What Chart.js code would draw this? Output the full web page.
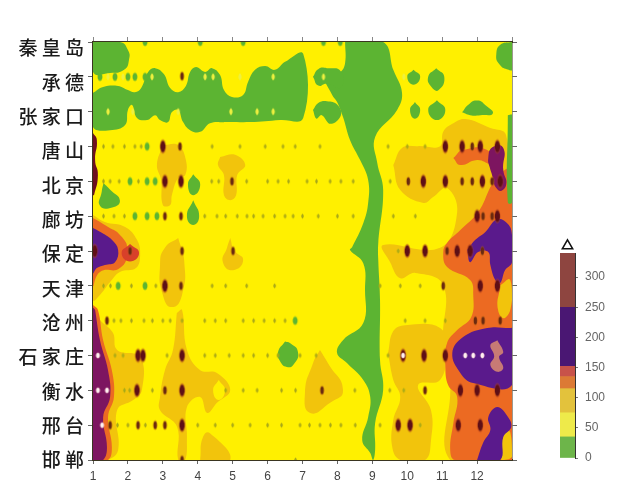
<!DOCTYPE html>
<html><head><meta charset="utf-8">
<style>
html,body{margin:0;padding:0;background:#fff;width:624px;height:500px;overflow:hidden}
canvas{position:absolute;filter:blur(.5px)}
#main{left:0;top:0}
#bar{left:540px;top:235px}
</style>
<script src="https://cdn.jsdelivr.net/npm/chart.js@4"></script>
</head><body>
<canvas id="main" width="624" height="500"></canvas>
<canvas id="bar" width="84" height="240"></canvas>
<script>
const cities=['秦 皇 岛','承 德','张 家 口','唐 山','北 京','廊 坊','保 定','天 津','沧 州','石 家 庄','衡 水','邢 台','邯 郸'];
const monthTicks=[1,2,3,4,5,6,7,8,9,10,11,12];
const barEdges=[0,35,75,115,135,152,250,340];
const barColors=['#6db54a','#eeea4a','#e3c23c','#dc7a35','#c8524a','#4a1773','#8e4540'];
const barTicks=[0,50,100,150,200,250,300];

// contour outlines: [month, station row]
const baseYellow=[[1,0],[13,0],[13,12],[1,12]];
const amberA=[[3,2.96],[3.44,2.96],[3.66,3.39],[3.64,3.82],[3.44,3.9],[3.26,4.39],[3.21,4.68],[3,4.68],[2.95,3.96],[2.83,3.53]];
const amberB=[[4.64,3.3],[5.07,3.24],[5.36,3.53],[5.13,3.82],[5.1,4.39],[4.93,4.54],[4.75,4.39],[4.75,3.82],[4.58,3.53]];
const amberC=[[3.44,5.63],[3.61,6.26],[3.55,7.26],[3.26,7.61],[3,7.26],[2.92,6.4],[3.06,5.91]];
const amberD=[[4.93,5.63],[5.04,5.97],[5.3,6.26],[5.01,6.55],[4.72,6.32],[4.84,5.9]];
const amberLeft=[[1,4.97],[1.34,5.17],[1.92,5.31],[2.26,5.68],[2.35,6.12],[2.23,6.49],[1.77,6.6],[1.49,6.89],[1.2,7.26],[1,7.41]];
const amberSouth=[[1,7.69],[1.2,7.98],[1.57,8.35],[1.69,8.84],[2.35,9.04],[2.4,9.99],[2.15,10.28],[1.69,10.57],[1.72,11.71],[1.4,12],[1,12]];
const amberMid=[[3.4,7.78],[3.55,7.69],[3.69,8.84],[4.07,9.42],[4.55,9.5],[4.93,9.99],[4.55,10.36],[4.27,10.65],[4.07,10.19],[3.69,10.48],[3.69,11.34],[3.64,12],[3.44,12],[3.41,11.05],[2.92,10.57],[2.92,10.19],[3.06,9.42],[3.29,8.84]];
const amberTri=[[4.07,12],[4.15,11.34],[4.35,11.23],[4.93,12]];
const amberAug=[[7.5,8.84],[7.73,9.22],[8.16,9.99],[7.79,10.36],[7.22,10.65],[7.07,10.08],[7.3,9.22]];
const amberEast=[[9.6,3.53],[9.85,3.04],[10.31,2.99],[10.94,2.99],[11.03,2.58],[11.29,2.35],[11.66,2.21],[12.38,2.47],[12.83,2.67],[13,4.54],[13,12],[11.23,12],[11.23,9.85],[11.03,8.56],[11.03,6.98],[10.23,6.63],[9.8,6.78],[9.51,6.32],[9.31,5.83],[10.94,5.91],[11.43,4.88],[11.14,4.19],[10.74,4.45],[10.46,4.62],[9.8,4.25]];
const amberSouthMid=[[9.45,8.93],[9.6,8.3],[9.94,8.13],[10.94,8.21],[11.11,8.84],[10.94,9.7],[10.31,9.85],[10.68,10.57],[10.68,11.43],[10.51,12],[9.8,12],[9.57,11.63],[9.6,10.85],[9.8,10.19],[9.6,9.7]];
const yellowHole=[[4.6,9.7],[4.78,10],[4.6,10.28],[4.44,10]];
const orangeEastA=[[11.32,3.33],[11.6,3.1],[12.29,3.1],[12.38,3.47],[12,3.39],[11.52,3.53]];
const orangeEastB=[[12.38,4.16],[12.03,4.88],[11.52,5.4],[11.14,5.77],[11.03,6.03],[11.14,6.46],[11.8,6.83],[11.89,7.26],[11.83,7.9],[11.43,8.27],[11.14,8.64],[11.09,9.27],[11.17,9.85],[11.43,10.19],[11.32,10.94],[11.23,11.71],[11.37,12],[13,12],[13,3.67],[12.8,3.67]];
const amberPatchA=[[12.66,6.98],[12.95,6.83],[13,7.41],[12.8,7.92],[12.6,7.69]];
const amberPatchB=[[12.6,11.3],[12.95,11.2],[13,11.9],[12.7,12]];
const orangeBaoding=[[1,5.05],[1.34,5.25],[1.83,5.6],[1.97,6.03],[1.77,6.49],[1.2,6.6],[1,6.98]];
const redRing=[[2.06,5.8],[2.32,6.06],[2.06,6.3],[1.82,6.06]];
const orangeStrip=[[1,7.55],[1.14,7.69],[1.29,8.56],[1.54,9.42],[1.6,10.19],[1.43,10.77],[1.54,11.63],[1.43,12],[1,12]];
const purpleBaoding=[[1,5.34],[1.2,5.45],[1.54,5.68],[1.72,5.97],[1.63,6.32],[1.34,6.4],[1.11,6.49],[1,6.63]];
const magentaStrip=[[1.06,7.69],[1.2,8.56],[1.43,9.42],[1.49,10.19],[1.29,10.77],[1.4,11.63],[1.29,12],[1,12],[1,7.64]];
const maroonStrip=[[1,2.61],[1.11,2.81],[1.06,3.39],[1.14,3.82],[1.03,4.39],[1,4.39]];
const purpleRow6=[[11.72,5.97],[11.95,5.68],[12.23,5.46],[12.58,5.08],[12.89,5.23],[13,5.54],[13,6.32],[12.8,6.55],[12.66,6.92],[12.52,6.83],[12.38,6.4],[12.32,6.03],[12.03,6.03],[11.8,6.32]];
const purpleShijz=[[12.95,8.21],[12.29,8.21],[11.6,8.47],[11.29,8.93],[11.52,9.5],[11.89,9.79],[13,9.85],[13,8.21]];
const purpleBottom=[[12,12],[12.17,11.51],[12.38,11.14],[12.32,10.77],[12.58,10.48],[12.89,10.77],[12.98,11.05],[12.75,11.34],[12.66,12]];
const magentaTop=[[12.38,3.67],[12.32,3.33],[12.46,3.01],[12.75,3.04],[12.75,3.67],[12.83,4.11],[12.6,4.25]];
const palePeak=[[12.58,8.56],[12.75,8.9],[12.63,9.04],[12.75,9.36],[12.58,9.47],[12.38,9.27],[12.49,9.02],[12.38,8.7]];
const greenLobe=[[1,0],[1.77,0],[2,.23],[2.03,.52],[1.89,.8],[1.49,.89],[1,.86]];
const greenNorth=[[1,1.46],[1.29,1.29],[1.72,1.26],[2,1.38],[2.2,1.44],[2.38,1.32],[2.58,.86],[2.78,.75],[3.03,.92],[3.21,1.32],[3.44,1.44],[3.66,1.26],[3.78,.86],[3.95,.72],[4.21,.86],[4.41,.75],[4.64,.95],[4.75,1.38],[4.98,1.58],[5.3,1.52],[5.44,1.15],[5.64,.8],[5.93,.69],[6.21,.8],[6.5,.57],[7.02,.34],[7.02,2.18],[6.36,2.24],[5.5,2.3],[4.78,2.3],[4.35,2.33],[4.07,2.58],[3.78,2.53],[3.58,2.3],[3.44,1.95],[3.26,2.01],[3.15,2.3],[2.92,2.24],[2.78,2.1],[2.55,2.24],[2.26,2.18],[2.12,1.81],[2,1.95],[1.92,2.38],[1.49,2.53],[1,2.44]];
const greenSept=[[8.22,0],[8.22,.6],[8.08,.86],[7.65,1],[7.85,1.52],[7.99,1.72],[8.16,2.15],[8.36,2.81],[8.65,3.39],[8.88,3.96],[8.88,4.62],[8.74,5.2],[8.42,5.89],[8.36,5.97],[8.74,6.35],[8.79,7.12],[8.74,8.07],[8.16,8.56],[7.99,8.93],[8.28,9.22],[8.74,9.7],[8.94,10.19],[8.88,10.77],[8.71,11.43],[8.94,11.8],[9.02,12],[9.08,11.71],[9.08,10.94],[9.31,9.99],[9.22,9.13],[9.22,7.41],[9.17,6.26],[9.17,5.77],[9.31,4.25],[9.14,3.47],[9.08,2.73],[9.71,1.95],[9.85,1.46],[9.6,.8],[9.31,0]];
const greenB1=[[10.18,.8],[10.37,1],[10.18,1.23],[10,1]];
const greenB2=[[10.83,.75],[11.06,1],[10.9,1.38],[10.7,1.3],[10.6,1]];
const greenB3=[[10.22,1.72],[10.37,1.95],[10.22,2.2],[10.08,1.95]];
const greenB4=[[10.85,1.67],[11.09,1.95],[10.85,2.24],[10.6,1.95]];
const greenB5=[[11.57,2.02],[11.75,1.8],[12,1.68],[12.25,1.82],[12.45,2.05],[12.1,2.1],[11.8,2.1]];
const greenB6=[[7.3,1],[7.45,.78],[7.7,.75],[8.1,.85],[8.1,1.3],[7.7,1.2],[7.45,1.25]];
const greenB7=[[7.3,1.95],[7.45,1.75],[7.7,1.7],[8,1.8],[8.1,2.1],[7.8,2.35],[7.55,2.1],[7.4,2.2]];
const greenCorner=[[13,0],[12.7,.05],[12.55,.35],[12.65,.65],[12.9,.8],[13,.8]];
const greenRight=[[12.88,2.1],[13,2.1],[13,4.6],[12.88,4.6]];
const greenJan=[[1.3,4.05],[1.5,4.25],[1.77,4.55],[1.55,4.75],[1.2,4.7],[1.25,4.3]];
const greenLangfang=[[3.87,4.54],[4.04,5],[3.87,5.25],[3.69,5]];
const greenBeijing=[[3.87,3.8],[4.07,4.1],[3.87,4.4],[3.72,4.1]];
const greenShijz=[[6.5,8.6],[6.65,8.65],[6.87,8.9],[6.75,9.25],[6.55,9.33],[6.35,9.15],[6.3,8.9]];

// station spots: [month, station row]
const spotBig=[[3,3],[11.09,3],[11.57,3],[12.09,3],[3.06,4],[3.52,4],[10.46,4],[11.09,4],[12.15,4],[12.66,4],[12,5],[12.58,5],[10,6],[10.51,6],[11.43,6],[11.8,6],[3.06,7],[12.09,7],[12.58,7],[3.55,9],[2.29,9],[2.43,9],[9.88,9],[10.48,9],[11.09,9],[3.55,10],[2.26,10],[11.52,10],[12,10],[12.58,10],[3.55,11],[11.46,11],[12.09,11],[9.74,11],[10.08,11],[1.05,6],[12.58,3]];
const spotMid=[[3.49,3],[11.86,3],[4.98,4],[10.03,4],[11.57,4],[11.86,4],[12.43,4],[3.06,5],[3.52,5],[12.17,5],[12.43,5],[3.55,6],[11.14,6],[12.15,6],[2.06,6],[5.01,6],[3.52,7],[11.03,7],[1.4,8],[12.17,8],[12.66,8],[11.95,8],[3.06,10],[10.51,10],[7.56,10],[2.29,11],[2.78,11],[3.06,11],[1.49,11],[3.55,12],[3.55,0.98]];
const spotOlive=[[2.2,3],[2.38,3],[1.57,3],[1.3,3],[1.9,3],[4.41,3],[5.21,3],[5.93,3],[6.44,3],[6.79,3],[7.5,3],[9.45,3],[10,3],[10.51,3],
 [1.3,4],[1.49,4],[1.75,4],[2.3,4],[4.4,4],[4.6,4],[5.4,4],[6,4],[6.3,4],[6.6,4],[7.13,4],[7.4,4],[7.79,4],[8.1,4],[8.45,4],[9.51,4],
 [1.3,5],[1.6,5],[1.9,5],[4.2,5],[4.55,5],[4.8,5],[5.13,5],[5.41,5],[5.6,5],[5.87,5],[6.2,5],[6.5,5],[6.73,5],[7,5],[7.45,5],[8,5],[8.45,5],[9.6,5],[10.23,5],
 [9.74,6],[1.3,7],[1.5,7],[2.1,7],[2.8,7],[4.41,7],[4.8,7],[5.4,7],[6.2,7],[9.22,7],[9.8,7],[10.37,7],
 [1.6,8],[1.8,8],[2.1,8],[2.46,8],[2.7,8],[3,8],[3.21,8],[3.55,8],[4.2,8],[4.5,8],[4.8,8],[5.3,8],[5.6,8],[5.9,8],[6.2,8],[6.5,8],[9.94,8],[10.51,8],[11.09,8],
 [1.63,9],[1.86,9],[3.12,9],[4.2,9],[4.5,9],[4.9,9],[5.3,9],[5.6,9],[6,9],[6.3,9],[6.93,9],[7.39,9],[9.45,9],
 [1.9,10],[2.05,10],[2.7,10],[4.8,10],[5.3,10],[5.7,10],[6.4,10],[6.8,10],[8.5,10],[9.5,10],[9.9,10],
 [1.7,11],[2,11],[2.5,11],[4,11],[4.5,11],[5,11],[5.5,11],[6,11],[6.4,11],[6.93,11],[7.2,11],[7.5,11],[7.8,11],[8.1,11],[8.51,11],[9.22,11],[10.37,11],[6.8,12]];
const spotGreen=[[2.49,0],[4.07,0],[5.3,0],[8.08,0],[7.6,0],[2.06,4],[2.55,3],[2.55,4],[2.78,4],[2.2,5],[2.55,5],[2.83,5],[1.72,7],[2.49,7],[6.79,8],[1.2,1],[1.63,1],[2,1],[2.2,1],[2.49,1]];
const spotYellow=[[1.43,1],[1.86,1],[2.69,1],[4.21,1],[4.44,1],[5.21,1],[6.16,1],[1.43,2],[2.14,2],[3.44,2],[4.95,2],[5.7,2],[6.16,2],[7.6,1],[9.9,1]];
const spotWhite=[[1.14,9],[11.66,9],[11.89,9],[12.15,9],[1.14,10],[1.4,10],[1.26,11],[9.88,9]];

const LEVELS={green:'#5cb432',yellow:'#fff000',amber:'#f2c40c',orange:'#ec6a22',red:'#d8402a',purple:'#5a1a8c',magenta:'#7d1560',maroon:'#6e1020',pale:'#c77a75'};
const layers=[
 [baseYellow,'yellow',0],[amberA,'amber'],[amberB,'amber'],[amberC,'amber'],[amberD,'amber'],[amberLeft,'amber'],[amberSouth,'amber'],[amberMid,'amber'],[amberTri,'amber'],[amberAug,'amber'],[amberEast,'amber'],[amberSouthMid,'amber'],[yellowHole,'yellow'],
 [orangeEastA,'orange'],[orangeEastB,'orange'],[amberPatchA,'amber'],[amberPatchB,'amber'],[orangeBaoding,'orange'],[redRing,'red'],[orangeStrip,'orange'],
 [purpleBaoding,'purple'],[magentaStrip,'magenta'],[maroonStrip,'maroon'],[purpleRow6,'purple'],[purpleShijz,'purple'],[purpleBottom,'purple'],[magentaTop,'magenta'],[palePeak,'pale'],
 [greenLobe,'green'],[greenNorth,'green'],[greenSept,'green'],[greenB1,'green'],[greenB2,'green'],[greenB3,'green'],[greenB4,'green'],[greenB5,'green'],[greenB6,'green'],[greenB7,'green'],[greenCorner,'green'],[greenRight,'green'],[greenJan,'green'],[greenLangfang,'green'],[greenBeijing,'green'],[greenShijz,'green']
];
function sprite(rx,ry,core,halo){
  const c=document.createElement('canvas');c.width=Math.ceil(rx*2+2);c.height=Math.ceil(ry*2+2);
  const g=c.getContext('2d');g.translate(c.width/2,c.height/2);g.scale(rx,ry);
  const r=g.createRadialGradient(0,0,0,0,0,1);r.addColorStop(0,core);r.addColorStop(.6,core);r.addColorStop(1,halo);
  g.fillStyle=r;g.beginPath();g.arc(0,0,1,0,Math.PI*2);g.fill();return c;
}
const toPts=a=>a.map(p=>({x:p[0],y:p[1]}));
const datasets=layers.map((l,i)=>({
  data:toPts(l[0].concat([l[0][0]])),showLine:true,fill:'shape',backgroundColor:LEVELS[l[1]],borderColor:LEVELS[l[1]],
  borderWidth:0,pointRadius:0,tension:l[2]===0?0:(l[0].length<8?0.55:0.42),order:-i
}));
const spotSets=[
 [spotGreen,sprite(3,5,'#5cb432','rgba(92,180,50,0)')],
 [spotOlive,sprite(1.5,3,'#a8a818','rgba(200,190,10,0)')],
 [spotYellow,sprite(2,4,'#eef040','rgba(240,240,60,0)')],
 [spotMid,sprite(2.5,5.5,'#6a2a10','rgba(230,130,20,0)')],
 [spotBig,sprite(3.5,8,'#5e0f16','rgba(220,90,30,0)')],
 [spotWhite,sprite(2.5,3.5,'#fff0f0','rgba(250,190,180,0)')]
];
spotSets.forEach((s,j)=>datasets.push({data:toPts(s[0]),showLine:false,pointStyle:s[1],pointRadius:4,order:-100-j}));

const axisColor='#3a3520';
const forceW=w=>s=>{s.width=w};
const forceH=h=>s=>{s.height=h};
const markAxis=(pos,extra)=>Object.assign({type:'linear',position:pos,min:0,max:12,reverse:true,
  ticks:{display:false,stepSize:1},grid:{drawOnChartArea:false,tickLength:5,color:'#666',tickColor:'#666'},
  border:{color:axisColor,width:1.5},afterFit:forceW(6)},extra||{});
new Chart(document.getElementById('main'),{
  type:'scatter',
  data:{datasets},
  options:{
    responsive:false,animation:false,events:[],
    layout:{padding:{left:0,top:36,right:106,bottom:0}},
    plugins:{legend:{display:false},tooltip:{enabled:false}},
    scales:{
      x:{type:'linear',position:'bottom',min:1,max:13,
        afterBuildTicks(s){s.ticks=monthTicks.map(v=>({value:v}))},
        ticks:{callback:v=>String(v),color:'#444',font:{family:'Liberation Sans',size:12},padding:5,maxRotation:0,autoSkip:false},
        grid:{drawOnChartArea:false,tickLength:4,color:'#666'},border:{color:axisColor,width:2},afterFit:forceH(40)},
      xt:{type:'linear',position:'top',min:1,max:13,ticks:{display:false,stepSize:1},
        grid:{drawOnChartArea:false,tickLength:5,color:'#888'},border:{color:axisColor,width:2},afterFit:forceH(6)},
      y:markAxis('left',{weight:0}),
      yl:{type:'linear',position:'left',weight:1,min:-0.175,max:12,reverse:true,
        afterBuildTicks(s){s.ticks=cities.map((c,i)=>({value:i}))},
        ticks:{callback:v=>cities[v],color:'#1a1a1a',font:{family:'Noto Sans CJK SC',size:19,weight:'500'},padding:3,autoSkip:false,maxRotation:0},
        grid:{display:false,drawTicks:false},border:{display:false},afterFit:forceW(87)},
      yr:markAxis('right')
    }
  }
});
const segData=barEdges.slice(1).map((e,i)=>e-barEdges[i]);
new Chart(document.getElementById('bar'),{
  data:{labels:['值'],datasets:[
    ...segData.map((v,i)=>({type:'bar',data:[v],backgroundColor:barColors[i],stack:'s',barPercentage:1,categoryPercentage:1,order:2})),
    {type:'line',data:[352],showLine:false,pointStyle:'triangle',pointRadius:6,backgroundColor:'#fff',borderColor:'#111',borderWidth:1.5,clip:false,order:1},
    {type:'line',data:[-12],showLine:false,pointStyle:'triangle',pointRotation:180,pointRadius:6,backgroundColor:'#111',borderColor:'#111',clip:false,order:1}
  ]},
  options:{
    responsive:false,animation:false,events:[],
    layout:{padding:{left:20,top:18,right:0,bottom:17}},
    plugins:{legend:{display:false},tooltip:{enabled:false}},
    scales:{
      x:{stacked:true,display:false},
      y:{stacked:true,position:'right',min:0,max:340,
        afterBuildTicks(s){s.ticks=barTicks.map(v=>({value:v}))},
        ticks:{color:'#666',font:{family:'Liberation Sans',size:12},padding:7},
        grid:{drawOnChartArea:false,tickLength:3,color:'#777'},border:{color:'#333'},afterFit:forceW(49)}
    }
  }
});
</script>
</body></html>
